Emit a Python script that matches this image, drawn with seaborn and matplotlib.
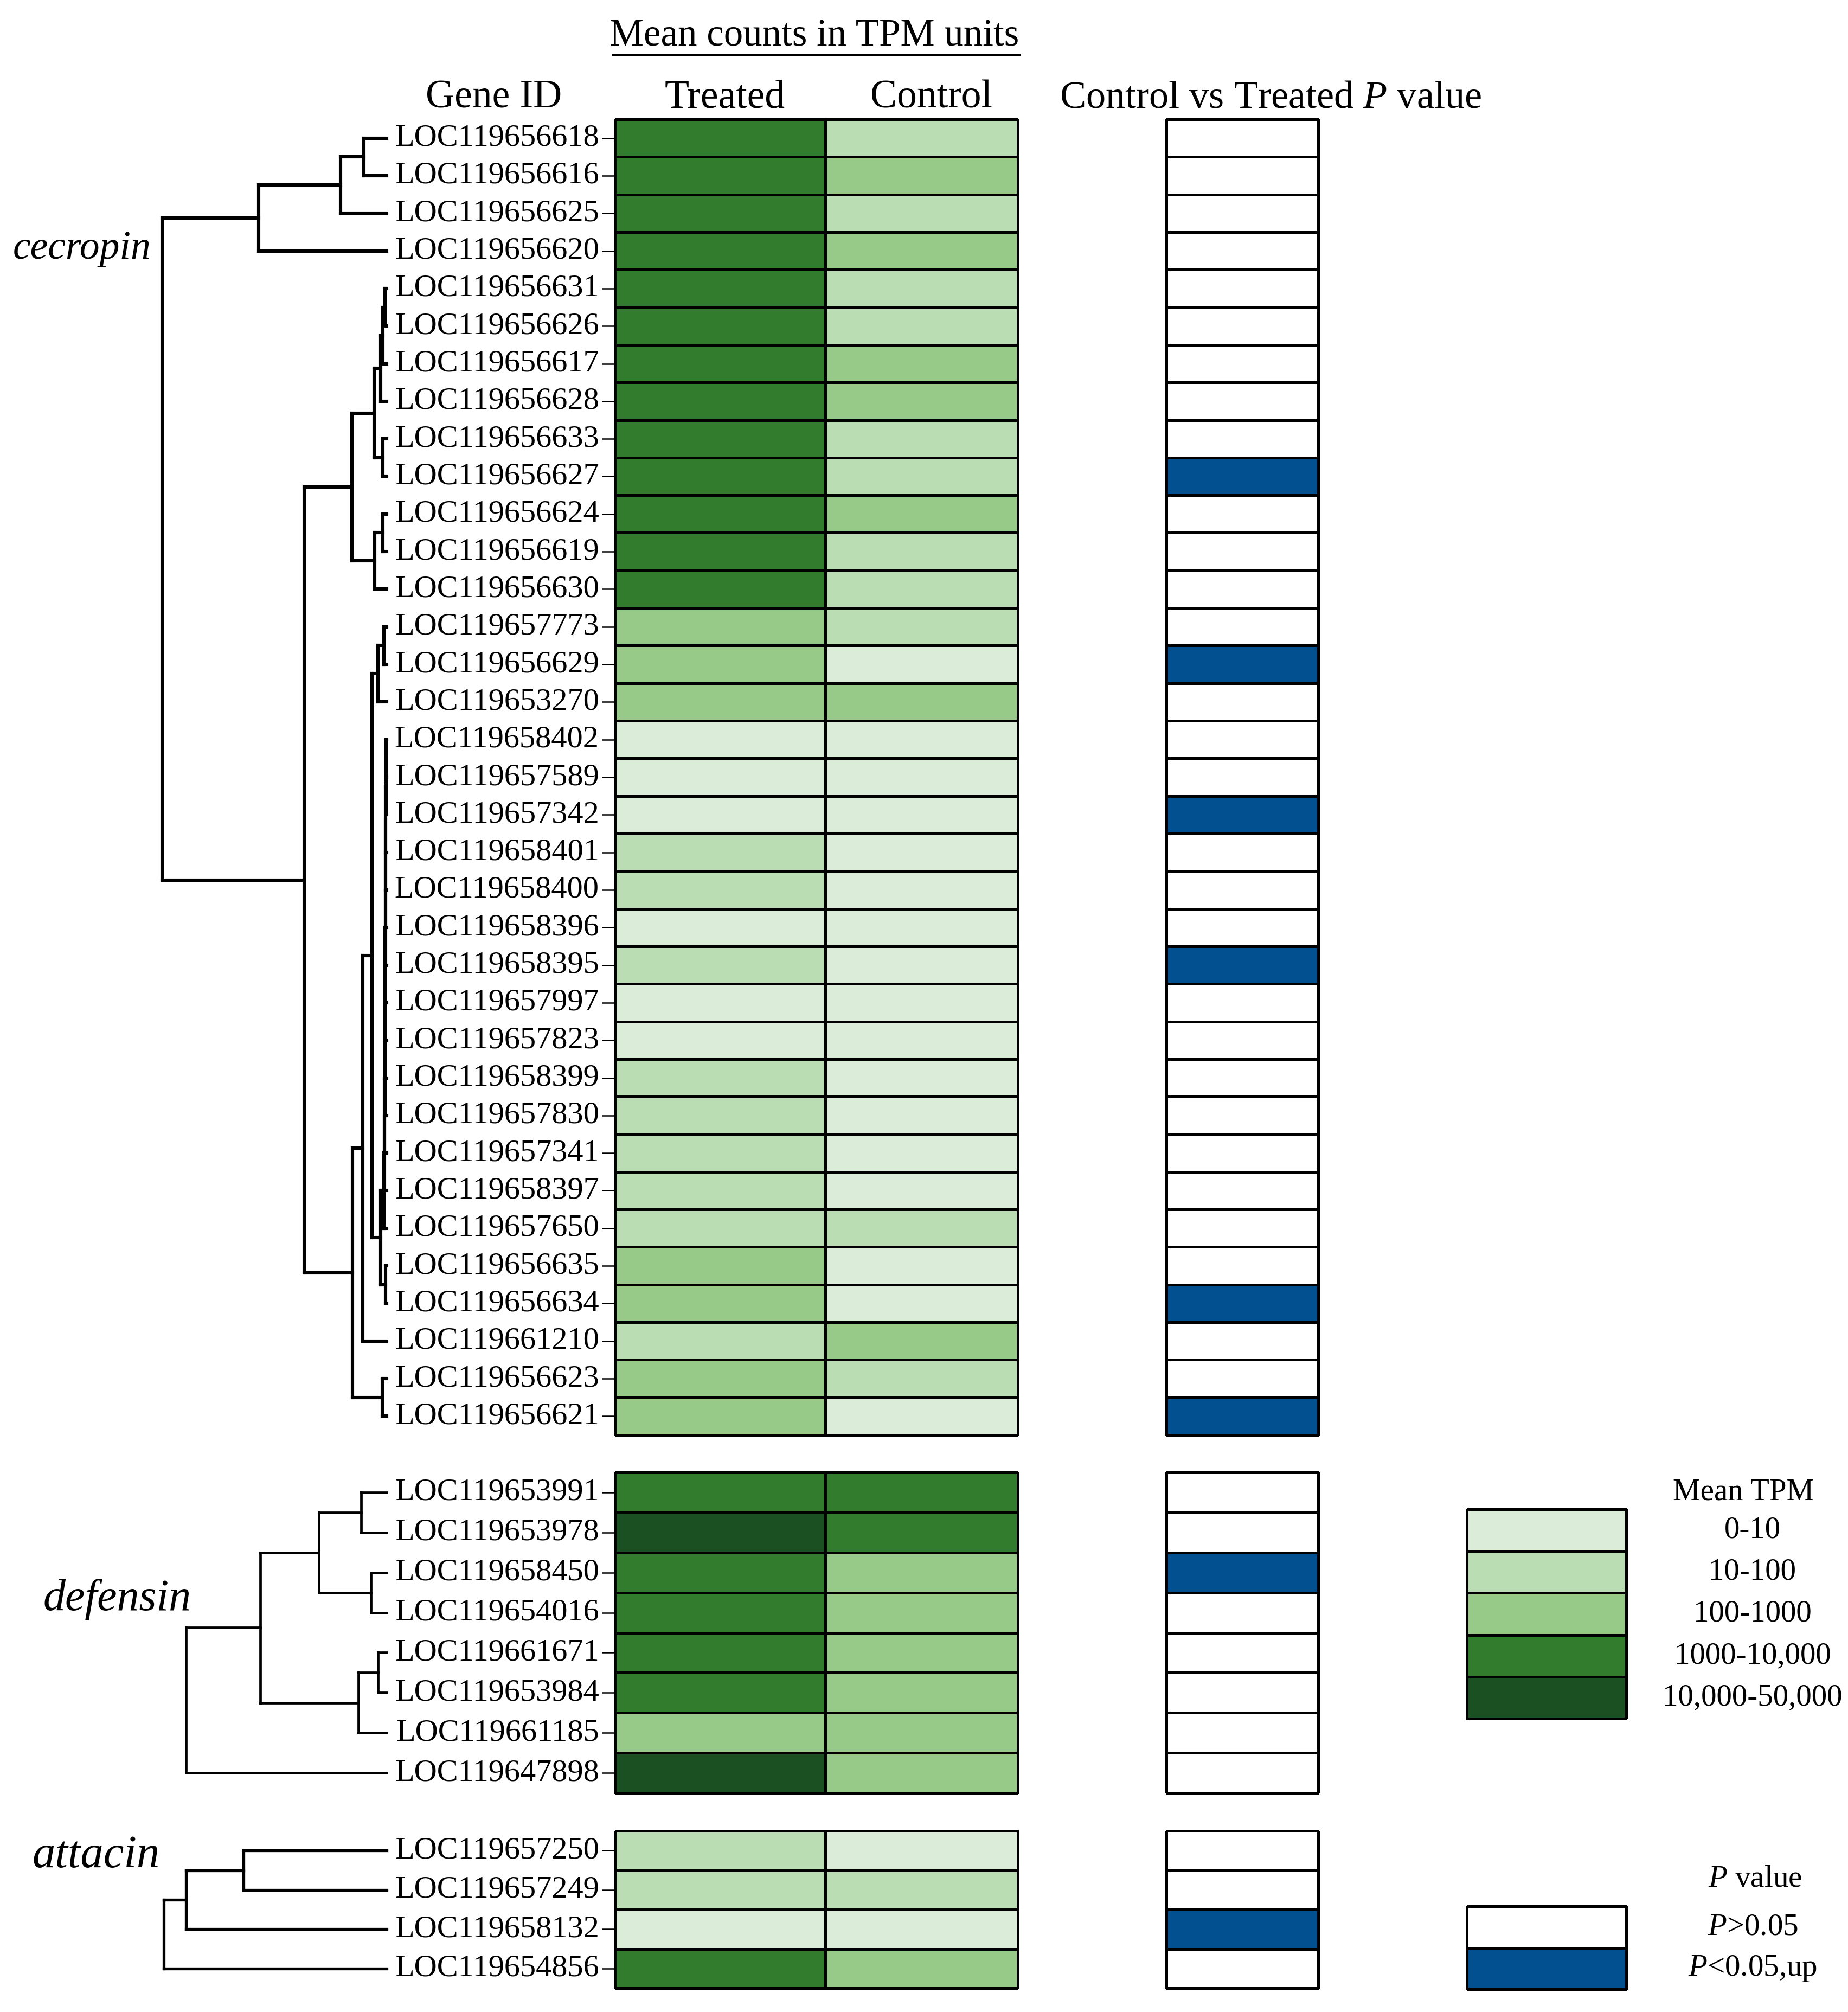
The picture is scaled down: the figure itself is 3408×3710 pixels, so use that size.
import numpy as np
import pandas as pd
import matplotlib
matplotlib.use("Agg")
import matplotlib.pyplot as plt
from matplotlib.colors import ListedColormap
from matplotlib.lines import Line2D
import matplotlib.transforms as mtransforms
import seaborn as sns

plt.rcParams['font.family'] = ['Liberation Serif', 'DejaVu Serif']
plt.rcParams['mathtext.fontset'] = 'custom'
plt.rcParams['mathtext.rm'] = 'Liberation Serif'
plt.rcParams['mathtext.it'] = 'Liberation Serif:italic'

# ---------------- data ----------------
# expression level classes: 0: 0-10, 1: 10-100, 2: 100-1000, 3: 1000-10,000, 4: 10,000-50,000
tpm_labels = ["0-10", "10-100", "100-1000", "1000-10,000", "10,000-50,000"]
tpm_colors = ["#dbedd8", "#bbddb3", "#97ca88", "#327d2d", "#1b5022"]
p_labels = [r"$\mathit{P}$>0.05", r"$\mathit{P}$<0.05,up"]
p_colors = ["#ffffff", "#02508f"]

cecropin_genes = ["LOC119656618", "LOC119656616", "LOC119656625", "LOC119656620", "LOC119656631",
                  "LOC119656626", "LOC119656617", "LOC119656628", "LOC119656633", "LOC119656627",
                  "LOC119656624", "LOC119656619", "LOC119656630", "LOC119657773", "LOC119656629",
                  "LOC119653270", "LOC119658402", "LOC119657589", "LOC119657342", "LOC119658401",
                  "LOC119658400", "LOC119658396", "LOC119658395", "LOC119657997", "LOC119657823",
                  "LOC119658399", "LOC119657830", "LOC119657341", "LOC119658397", "LOC119657650",
                  "LOC119656635", "LOC119656634", "LOC119661210", "LOC119656623", "LOC119656621"]
cecropin_treated = [3, 3, 3, 3, 3, 3, 3, 3, 3, 3, 3, 3, 3, 2, 2, 2, 0, 0, 0, 1,
                    1, 0, 1, 0, 0, 1, 1, 1, 1, 1, 2, 2, 1, 2, 2]
cecropin_control = [1, 2, 1, 2, 1, 1, 2, 2, 1, 1, 2, 1, 1, 1, 0, 2, 0, 0, 0, 0,
                    0, 0, 0, 0, 0, 0, 0, 0, 0, 1, 0, 0, 2, 1, 0]
cecropin_p = [0, 0, 0, 0, 0, 0, 0, 0, 0, 1, 0, 0, 0, 0, 1, 0, 0, 0, 1, 0,
              0, 0, 1, 0, 0, 0, 0, 0, 0, 0, 0, 1, 0, 0, 1]

defensin_genes = ["LOC119653991", "LOC119653978", "LOC119658450", "LOC119654016",
                  "LOC119661671", "LOC119653984", "LOC119661185", "LOC119647898"]
defensin_treated = [3, 4, 3, 3, 3, 3, 2, 4]
defensin_control = [3, 3, 2, 2, 2, 2, 2, 2]
defensin_p = [0, 0, 1, 0, 0, 0, 0, 0]

attacin_genes = ["LOC119657250", "LOC119657249", "LOC119658132", "LOC119654856"]
attacin_treated = [1, 1, 0, 3]
attacin_control = [0, 1, 0, 2]
attacin_p = [0, 0, 1, 0]

# dendrograms: (height, child, child); leaves are row indices
comb_leaves = [16, 17, 18, 19, 20, 21, 22, 23, 24, 25, 26, 27, 28, 29]
comb_heights = [0.01, 0.01, 0.02, 0.02, 0.02, 0.02, 0.03, 0.03, 0.03, 0.03, 0.04, 0.04, 0.05]


def build_comb(leaves, heights):
    node = leaves[0]
    for leaf, h in zip(leaves[1:], heights):
        node = (h, node, leaf)
    return node


cec_A = (2.36, (0.85, (0.42, 0, 1), 2), 3)
cec_B1 = (0.64, (0.23, (0.11, (0.07, (0.03, 4, 5), 6), 7), (0.07, 8, 9)),
          (0.22, (0.07, 10, 11), 12))
cec_B2 = (0.63, (0.44, (0.27, (0.16, (0.05, 13, 14), 15),
                        (0.11, build_comb(comb_leaves, comb_heights), (0.02, 30, 31))), 32),
          (0.08, 33, 34))
cecropin_tree = (4.14, cec_A, (1.52, cec_B1, cec_B2))
defensin_tree = (3.70, (2.33, (1.25, (0.47, 0, 1), (0.29, 2, 3)), (0.52, (0.16, 4, 5), 6)), 7)
attacin_tree = (4.11, (3.70, (2.64, 0, 1), 2), 3)

# ---------------- layout (pixels) ----------------
W, H = 3408, 3710
fig = plt.figure(figsize=(W / 100, H / 100), dpi=100)
fig.patch.set_facecolor("white")


def rect(x0, y0, x1, y1):
    return [x0 / W, 1 - y1 / H, (x1 - x0) / W, (y1 - y0) / H]


def fx(x):
    return x / W


def fy(y):
    return 1 - y / H


tpm_cmap = ListedColormap(tpm_colors)
p_cmap = ListedColormap(p_colors)

groups = [
    dict(name="cecropin", genes=cecropin_genes, t=cecropin_treated, c=cecropin_control,
         p=cecropin_p, tree=cecropin_tree, top=220, bottom=2646, lab=(24, 459), fs=53, lw=4.4),
    dict(name="defensin", genes=defensin_genes, t=defensin_treated, c=defensin_control,
         p=defensin_p, tree=defensin_tree, top=2715, bottom=3306, lab=(80, 2949), fs=59, lw=3.4),
    dict(name="attacin", genes=attacin_genes, t=attacin_treated, c=attacin_control,
         p=attacin_p, tree=attacin_tree, top=3376, bottom=3666, lab=(59, 3422), fs=61, lw=3.8),
]

COL_T = (1134, 1522)
COL_C = (1522, 1877)
COL_P = (2151, 2431)
DEND_X = (250, 713)
DEND_MAX = 4.63
GRID_LW = 2.2


def draw_tree(ax, node, lw):
    if isinstance(node, int):
        return node + 0.5, 0.0
    h, a, b = node
    ya, ha = draw_tree(ax, a, lw)
    yb, hb = draw_tree(ax, b, lw)
    kw = dict(color="black", lw=lw, solid_capstyle="projecting", clip_on=False)
    ax.plot([h, h], [ya, yb], **kw)
    ax.plot([ha, h], [ya, ya], **kw)
    ax.plot([hb, h], [yb, yb], **kw)
    return (ya + yb) / 2, h


for g in groups:
    n = len(g["genes"])
    # Treated column with gene labels
    axT = fig.add_axes(rect(COL_T[0], g["top"], COL_T[1], g["bottom"]))
    sns.heatmap(pd.DataFrame({"Treated": g["t"]}, index=g["genes"]), ax=axT, cmap=tpm_cmap,
                vmin=-0.5, vmax=4.5, cbar=False, linewidths=GRID_LW, linecolor="black",
                xticklabels=False, yticklabels=True)
    axT.collections[0].set_clip_on(False)
    axT.set_ylabel("")
    axT.set_yticks(np.arange(n) + 0.5)
    axT.set_yticklabels(g["genes"], rotation=0, fontsize=42)
    axT.tick_params(axis="y", left=True, length=17, width=1.8, pad=4, color="black")

    # Control column
    axC = fig.add_axes(rect(COL_C[0], g["top"], COL_C[1], g["bottom"]))
    sns.heatmap(pd.DataFrame({"Control": g["c"]}, index=g["genes"]), ax=axC, cmap=tpm_cmap,
                vmin=-0.5, vmax=4.5, cbar=False, linewidths=GRID_LW, linecolor="black",
                xticklabels=False, yticklabels=False)
    axC.collections[0].set_clip_on(False)
    axC.set_ylabel("")

    # P value column
    axP = fig.add_axes(rect(COL_P[0], g["top"], COL_P[1], g["bottom"]))
    sns.heatmap(pd.DataFrame({"P": g["p"]}, index=g["genes"]), ax=axP, cmap=p_cmap,
                vmin=-0.5, vmax=1.5, cbar=False, linewidths=GRID_LW, linecolor="black",
                xticklabels=False, yticklabels=False)
    axP.collections[0].set_clip_on(False)
    axP.set_ylabel("")

    # Dendrogram
    axD = fig.add_axes(rect(DEND_X[0], g["top"], DEND_X[1], g["bottom"]))
    axD.set_xlim(DEND_MAX, 0)
    axD.set_ylim(n, 0)
    axD.axis("off")
    draw_tree(axD, g["tree"], g["lw"])

    # family label
    fig.text(fx(g["lab"][0]), fy(g["lab"][1]), g["name"], style="italic", fontsize=g["fs"],
             ha="left", va="center")

# headers
fig.text(fx(1502), fy(67), "Mean counts in TPM units", fontsize=51, ha="center", va="center")
fig.add_artist(Line2D([fx(1130), fx(1880)], [fy(101), fy(101)], lw=3.5, color="black"))
fig.text(fx(911), fy(181), "Gene ID", fontsize=53, ha="center", va="center")
fig.text(fx(1337), fy(181), "Treated", fontsize=53, ha="center", va="center")
fig.text(fx(1718), fy(181), "Control", fontsize=53, ha="center", va="center")
fig.text(fx(2343), fy(181), r"Control vs Treated $\mathit{P}$ value", fontsize=52,
         ha="center", va="center")

# legends
LEG_X = (2705, 2999)
LAB_X = 3232

axL = fig.add_axes(rect(LEG_X[0], 2783, LEG_X[1], 3169))
sns.heatmap(np.arange(len(tpm_labels)).reshape(-1, 1), ax=axL, cmap=tpm_cmap, vmin=-0.5,
            vmax=4.5, cbar=False, linewidths=GRID_LW, linecolor="black",
            xticklabels=False, yticklabels=False)
axL.collections[0].set_clip_on(False)
trL = mtransforms.blended_transform_factory(fig.transFigure, axL.transData)
for i, lab in enumerate(tpm_labels):
    axL.text(fx(LAB_X), i + 0.5, lab, transform=trL, fontsize=41, ha="center", va="center")
fig.text(fx(3215), fy(2752), "Mean TPM", fontsize=41, ha="center", va="center")

axPL = fig.add_axes(rect(LEG_X[0], 3515, LEG_X[1], 3668))
sns.heatmap(np.arange(len(p_labels)).reshape(-1, 1), ax=axPL, cmap=p_cmap, vmin=-0.5,
            vmax=1.5, cbar=False, linewidths=GRID_LW, linecolor="black",
            xticklabels=False, yticklabels=False)
axPL.collections[0].set_clip_on(False)
trP = mtransforms.blended_transform_factory(fig.transFigure, axPL.transData)
for i, lab in enumerate(p_labels):
    axPL.text(fx(LAB_X), i + 0.5, lab, transform=trP, fontsize=41, ha="center", va="center")
fig.text(fx(3236), fy(3465), r"$\mathit{P}$ value", fontsize=41, ha="center", va="center")

fig.savefig("out.png", dpi=100, facecolor="white")
